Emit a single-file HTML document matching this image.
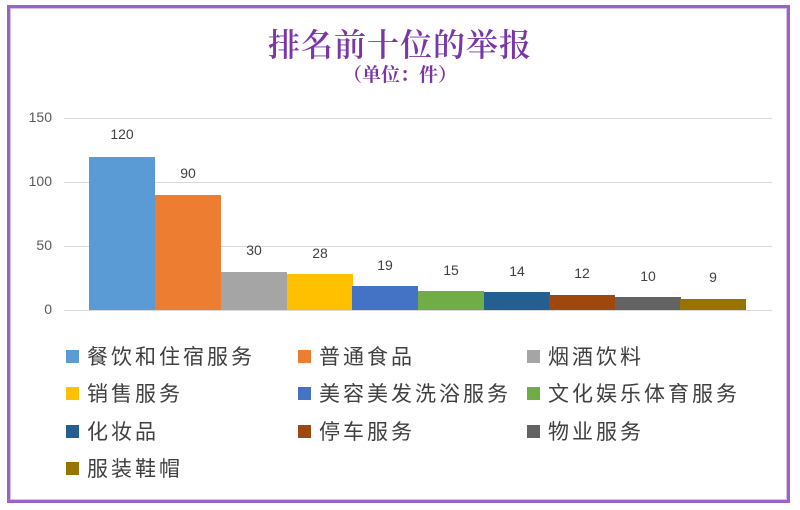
<!DOCTYPE html>
<html><head><meta charset="utf-8"><style>
body{margin:0;width:800px;height:510px;background:#fff;position:relative;overflow:hidden;font-family:"Liberation Sans","Noto Sans CJK SC",sans-serif}
.frame{position:absolute;left:7px;top:5px;width:777px;height:492px;border:3px solid #9a63c4;box-shadow:inset 0 0 0 1px #d6bfe8}
.t{position:absolute;left:0;width:800px;text-align:center;color:#7a35a6;font-family:"Liberation Serif","Noto Serif CJK SC",serif}
.g{position:absolute;left:64px;width:708px;height:1px;background:#d9d9d9}
.yl{position:absolute;left:20px;width:32px;text-align:right;font-size:14px;color:#595959}
.b{position:absolute;width:66px}
.v{position:absolute;width:66px;text-align:center;font-size:14px;color:#404040}
.lg{position:absolute;font-size:21px;color:#404040;letter-spacing:3px;white-space:nowrap}
.lg i{display:inline-block;width:13px;height:13px;margin-right:8px;vertical-align:1px}
</style></head><body>
<div class="frame"></div>
<div class="t" style="top:20px;font-size:32px;font-weight:600;letter-spacing:1px">排名前十位的举报</div>
<div class="t" style="top:60px;font-size:19px;font-weight:bold">（单位：件）</div>
<div class="g" style="top:118px"></div><div class="g" style="top:182px"></div><div class="g" style="top:246px"></div><div class="g" style="top:310px"></div>
<div class="yl" style="top:109px">150</div><div class="yl" style="top:173px">100</div><div class="yl" style="top:237px">50</div><div class="yl" style="top:301px">0</div>
<div class="b" style="left:89px;top:157px;height:153px;background:#5b9bd5"></div><div class="v" style="left:89px;top:126px">120</div>
<div class="b" style="left:155px;top:195px;height:115px;background:#ed7d31"></div><div class="v" style="left:155px;top:165px">90</div>
<div class="b" style="left:221px;top:272px;height:38px;background:#a5a5a5"></div><div class="v" style="left:221px;top:242px">30</div>
<div class="b" style="left:287px;top:274px;height:36px;background:#ffc000"></div><div class="v" style="left:287px;top:245px">28</div>
<div class="b" style="left:352px;top:286px;height:24px;background:#4472c4"></div><div class="v" style="left:352px;top:257px">19</div>
<div class="b" style="left:418px;top:291px;height:19px;background:#70ad47"></div><div class="v" style="left:418px;top:262px">15</div>
<div class="b" style="left:484px;top:292px;height:18px;background:#255e91"></div><div class="v" style="left:484px;top:263px">14</div>
<div class="b" style="left:549px;top:295px;height:15px;background:#9e480e"></div><div class="v" style="left:549px;top:265px">12</div>
<div class="b" style="left:615px;top:297px;height:13px;background:#636363"></div><div class="v" style="left:615px;top:268px">10</div>
<div class="b" style="left:680px;top:299px;height:11px;background:#997300"></div><div class="v" style="left:680px;top:269px">9</div>
<div class="lg" style="left:66px;top:341px"><i style="background:#5b9bd5"></i>餐饮和住宿服务</div>
<div class="lg" style="left:298px;top:341px"><i style="background:#ed7d31"></i>普通食品</div>
<div class="lg" style="left:527px;top:341px"><i style="background:#a5a5a5"></i>烟酒饮料</div>
<div class="lg" style="left:66px;top:378px"><i style="background:#ffc000"></i>销售服务</div>
<div class="lg" style="left:298px;top:378px"><i style="background:#4472c4"></i>美容美发洗浴服务</div>
<div class="lg" style="left:527px;top:378px"><i style="background:#70ad47"></i>文化娱乐体育服务</div>
<div class="lg" style="left:66px;top:416px"><i style="background:#255e91"></i>化妆品</div>
<div class="lg" style="left:298px;top:416px"><i style="background:#9e480e"></i>停车服务</div>
<div class="lg" style="left:527px;top:416px"><i style="background:#636363"></i>物业服务</div>
<div class="lg" style="left:66px;top:453px"><i style="background:#997300"></i>服装鞋帽</div>
</body></html>
